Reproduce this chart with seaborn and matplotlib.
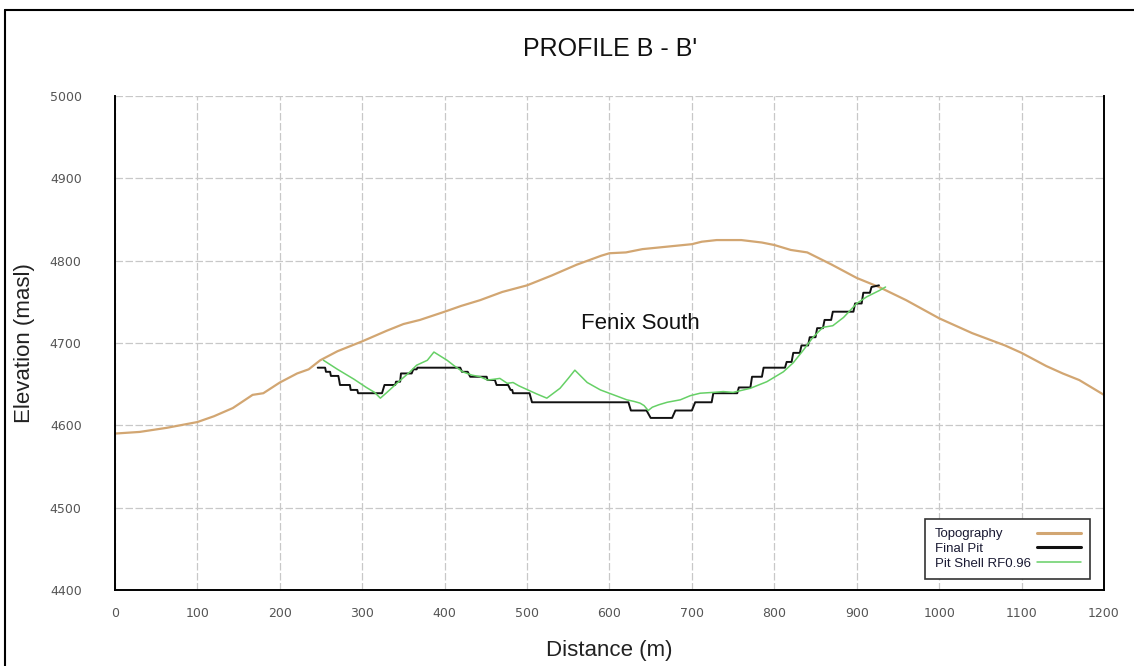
import pandas as pd
import seaborn as sns
import matplotlib.pyplot as plt
from matplotlib.lines import Line2D

# Topography profile (distance m, elevation masl)
topo_x = [0, 30, 63, 100, 120, 143, 167, 180, 200, 221, 235, 249, 270, 300, 330, 350,
          370, 400, 420, 443, 470, 500, 530, 560, 590, 600, 620, 640, 660, 680, 700,
          712, 730, 760, 785, 800, 820, 840, 870, 900, 927, 960, 1000, 1040, 1080,
          1100, 1130, 1150, 1170, 1200]
topo_y = [4590, 4592, 4597, 4604, 4611, 4621, 4637, 4639, 4652, 4663, 4668, 4679, 4690,
          4702, 4715, 4723, 4728, 4738, 4745, 4752, 4762, 4770, 4782, 4795, 4806, 4809,
          4810, 4814, 4816, 4818, 4820, 4823, 4825, 4825, 4822, 4819, 4813, 4810, 4795,
          4779, 4768, 4752, 4730, 4712, 4697, 4688, 4672, 4663, 4655, 4637]

# Final pit (benched outline)
pit_x = [246, 255, 256, 261, 262, 271, 272, 273, 285, 286, 294, 295, 324, 327, 340, 341,
         346, 347, 360, 362, 366, 367, 419, 421, 428, 431, 451, 452, 461, 463, 477, 480,
         482, 483, 503, 506, 623, 626, 645, 650, 676, 680, 700, 704, 724, 726, 755, 757,
         771, 773, 785, 787, 813, 815, 821, 823, 831, 833, 841, 843, 850, 852, 859, 861,
         869, 871, 896, 898, 906, 908, 916, 918, 927]
pit_y = [4670, 4670, 4665, 4665, 4660, 4660, 4655, 4649, 4649, 4643, 4643, 4639, 4639,
         4649, 4649, 4653, 4653, 4663, 4663, 4668, 4668, 4670, 4670, 4665, 4665, 4659,
         4659, 4655, 4655, 4649, 4649, 4643, 4643, 4639, 4639, 4628, 4628, 4618, 4618,
         4609, 4609, 4618, 4618, 4628, 4628, 4639, 4639, 4646, 4646, 4659, 4659, 4670,
         4670, 4677, 4677, 4688, 4688, 4697, 4697, 4707, 4707, 4718, 4718, 4728, 4728,
         4738, 4738, 4748, 4748, 4761, 4761, 4768, 4770]

# Pit shell RF0.96
shell_x = [253, 270, 290, 305, 315, 322, 330, 342, 358, 366, 379, 387, 395, 403, 412,
           422, 433, 443, 452, 460, 467, 476, 483, 490, 501, 512, 524, 532, 540, 550,
           558, 565, 573, 589, 605, 621, 630, 637, 642, 647, 652, 660, 670, 686, 698,
           710, 726, 738, 750, 771, 791, 811, 823, 835, 847, 859, 871, 884, 900, 912,
           928, 935]
shell_y = [4679, 4668, 4656, 4646, 4640, 4633, 4640, 4651, 4665, 4673, 4679, 4689, 4684,
           4679, 4672, 4665, 4661, 4659, 4655, 4656, 4657, 4651, 4652, 4648, 4643, 4638,
           4633, 4639, 4645, 4657, 4667, 4660, 4652, 4643, 4637, 4631, 4629, 4627, 4624,
           4618, 4622, 4625, 4628, 4631, 4636, 4639, 4640, 4641, 4640, 4645, 4653, 4665,
           4676, 4691, 4707, 4719, 4721, 4731, 4748, 4756, 4764, 4768]

x_ticks = list(range(0, 1201, 100))
y_ticks = list(range(4400, 5001, 100))
legend_labels = ["Topography", "Final Pit", "Pit Shell RF0.96"]

topo_color = "#d2a672"
pit_color = "#111111"
shell_color = "#66d066"

sns.set_style("white")
plt.rcParams['font.family'] = ['Liberation Sans', 'DejaVu Sans']

fig = plt.figure(figsize=(11.34, 6.66), dpi=100)
ax = fig.add_axes([0.1014, 0.1141, 0.8721, 0.7418])

topo = pd.DataFrame({"Distance": topo_x, "Elevation": topo_y})
pit = pd.DataFrame({"Distance": pit_x, "Elevation": pit_y})
shell = pd.DataFrame({"Distance": shell_x, "Elevation": shell_y})

sns.lineplot(data=topo, x="Distance", y="Elevation", sort=False, estimator=None,
             color=topo_color, linewidth=1.6, ax=ax)
sns.lineplot(data=pit, x="Distance", y="Elevation", sort=False, estimator=None,
             color=pit_color, linewidth=1.4, ax=ax)
sns.lineplot(data=shell, x="Distance", y="Elevation", sort=False, estimator=None,
             color=shell_color, linewidth=1.1, ax=ax)

ax.set_xlim(0, 1200)
ax.set_ylim(4400, 5000)
ax.set_xticks(x_ticks)
ax.set_yticks(y_ticks)
ax.grid(True, linestyle=(0, (6, 2)), color="#c8c8c8", linewidth=0.9)
ax.tick_params(length=0, labelsize=9, labelcolor="#555555")
ax.tick_params(axis="y", pad=24)
ax.tick_params(axis="x", pad=12)
for lab in ax.get_xticklabels() + ax.get_yticklabels():
    lab.set_family(['DejaVu Sans'])

for side in ["left", "bottom", "right"]:
    ax.spines[side].set_visible(True)
    ax.spines[side].set_color("black")
    ax.spines[side].set_linewidth(1.4)
ax.spines["top"].set_visible(False)

ax.set_xlabel("Distance (m)", fontsize=16, color="#222222")
ax.set_ylabel("Elevation (masl)", fontsize=16, color="#222222")
ax.xaxis.set_label_coords(0.5, -0.101)
ax.yaxis.set_label_coords(-0.081, 0.5)

ax.text(637, 4724, "Fenix South", fontsize=16, ha="center", va="center", color="#111111")

fig.text(0.538, 0.926, "PROFILE B - B'", fontsize=18, ha="center", va="center", color="#111111")

handles = [Line2D([], [], color=topo_color, linewidth=2.2),
           Line2D([], [], color=pit_color, linewidth=2.2),
           Line2D([], [], color=shell_color, linewidth=1.1)]
leg = ax.legend(handles, legend_labels,
                loc="lower right", bbox_to_anchor=(0.986, 0.022), markerfirst=False,
                fontsize=9.5, frameon=True, fancybox=False, framealpha=1,
                handlelength=3.3, handletextpad=0.5, labelspacing=0.2,
                borderpad=0.7, borderaxespad=0)
leg.get_frame().set_edgecolor("#333333")
leg.get_frame().set_linewidth(1.2)
for t in leg.get_texts():
    t.set_color("#1a1a33")

# left-align the legend texts while keeping the handles in a right column
fig.canvas.draw()
rows = leg._legend_handle_box.get_children()[0].get_children()
widths = [t.get_window_extent().width for t in leg.get_texts()]
for row, w in zip(rows, widths):
    row.sep += (max(widths) - w) * 72 / fig.dpi

# outer frame of the figure panel (left and top edges visible)
fig.add_artist(Line2D([5 / 1134, 5 / 1134], [0, 1 - 10 / 666], transform=fig.transFigure,
                      color="black", linewidth=1.5))
fig.add_artist(Line2D([5 / 1134, 1], [1 - 10 / 666, 1 - 10 / 666], transform=fig.transFigure,
                      color="black", linewidth=1.5))

fig.savefig("out.png", dpi=100)
